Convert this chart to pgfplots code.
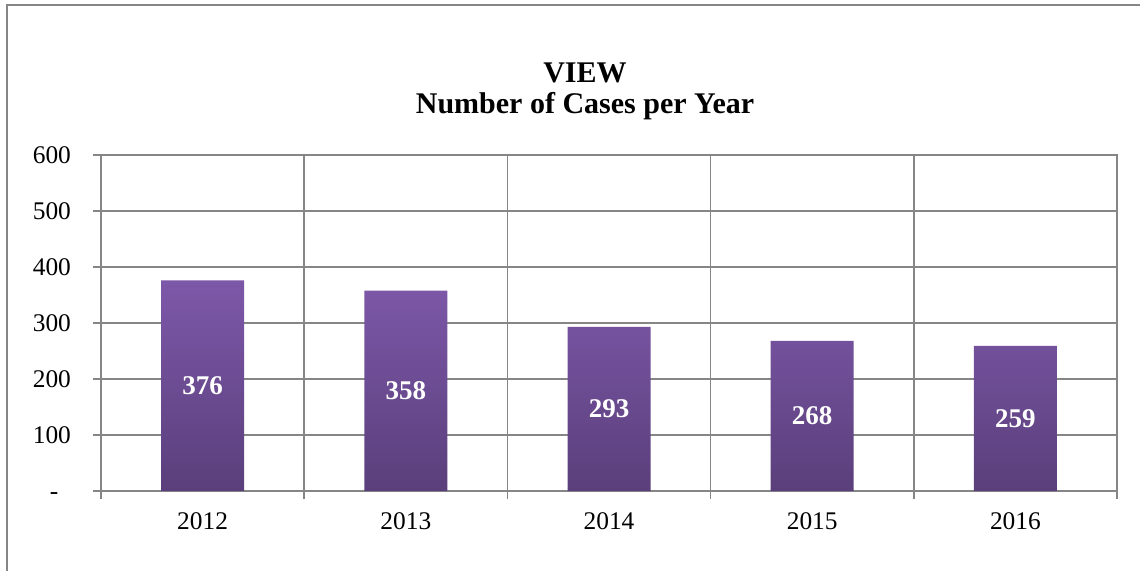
\documentclass[border=0pt]{standalone}
\usepackage{fontspec}
\setmainfont{Liberation Serif}
\usepackage{pgfplots}
\pgfplotsset{compat=1.18}
\definecolor{gridgray}{RGB}{134,134,134}
\definecolor{bartop}{RGB}{125,88,169}
\definecolor{barbot}{RGB}{90,63,123}
\begin{document}
\begin{tikzpicture}[x=1pt,y=1pt]
\useasboundingbox (-50.5,-39.5) rectangle (519.5,245.5);
\draw[gridgray, line width=1pt] (-47,-45) -- (-47,243) -- (530,243);
\node[anchor=base, font=\bfseries\fontsize{15}{18}\selectfont] at (242,204.5) {VIEW};
\node[anchor=base, font=\bfseries\fontsize{15}{18}\selectfont] at (242,189) {Number of Cases per Year};
\begin{axis}[
  at={(0pt,0pt)}, anchor=south west,
  scale only axis, width=508pt, height=168pt,
  xmin=-0.5, xmax=4.5, ymin=0, ymax=600,
  xtick={-0.5,0.5,1.5,2.5,3.5,4.5},
  xticklabels={},
  extra x ticks={0,1,2,3,4},
  extra x tick labels={2012,2013,2014,2015,2016},
  extra x tick style={major tick length=0pt, grid=none,
     xticklabel style={yshift=-7.5pt}},
  ytick={0,100,200,300,400,500,600},
  yticklabels={\phantom{0}-\phantom{0},100,200,300,400,500,600},
  yticklabel style={xshift=-7.5pt},
  xmajorgrids, ymajorgrids,
  grid style={gridgray, line width=0.8pt},
  axis line style={gridgray, line width=0.8pt},
  tick style={gridgray, line width=0.8pt},
  major tick length=4pt,
  tick align=outside,
  tick pos=left,
  ticklabel style={font=\fontsize{12.7}{15}\selectfont, text=black},
]
\addplot[ybar, bar width=41.5pt, draw=none, top color=bartop, bottom color=barbot]
  coordinates {(0,376) (1,358) (2,293) (3,268) (4,259)};
\addplot[draw=none, mark=none, nodes near coords, point meta=explicit symbolic,
  every node near coord/.append style={anchor=center, text=white,
     font=\bfseries\fontsize{13.5}{16}\selectfont}]
  coordinates {(0,188)[376] (1,179)[358] (2,146.5)[293] (3,134)[268] (4,129.5)[259]};
\end{axis}
\end{tikzpicture}
\end{document}
